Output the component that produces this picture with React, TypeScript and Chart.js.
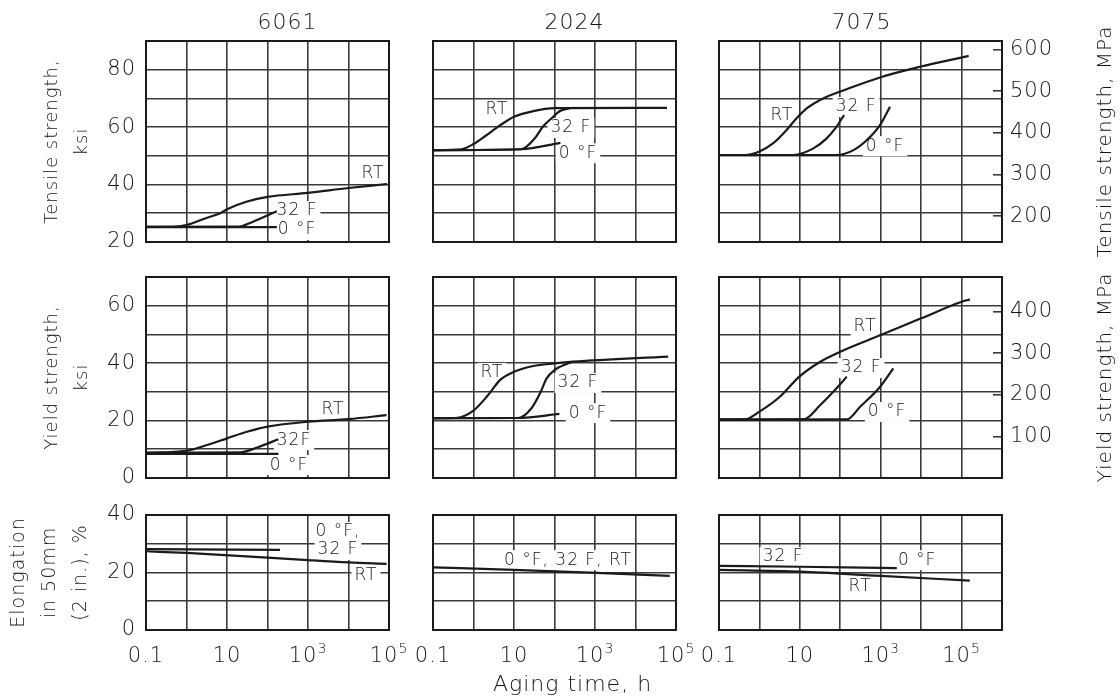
import React, { useEffect, useRef } from 'react';
import { Chart, registerables } from 'chart.js';

Chart.register(...registerables);

// ---------------- text ----------------
const alloys = ['6061', '2024', '7075'];
const rowTitles = [
  ['Tensile strength,', 'ksi'],
  ['Yield strength,', 'ksi'],
  ['Elongation', 'in 50mm', '(2 in.), %'],
];
const rightTitles = ['Tensile strength, MPa', 'Yield strength, MPa'];
const xAxisTitle = 'Aging time, h';

// ---------------- axes ----------------
const xGridDecades6 = [0.1, 1, 10, 100, 1000, 10000, 100000];
const xGridDecades7 = [0.1, 1, 10, 100, 1000, 10000, 100000, 1000000];
const xTickValues = [0.1, 10, 1000, 100000];
const xTickLabels = ['0.1', '10', '10³', '10⁵'];

const tensileRange = [20, 90];
const yieldRange = [0, 70];
const elongRange = [0, 40];
const tensileGrid = [20, 30, 40, 50, 60, 70, 80, 90];
const yieldGrid = [0, 10, 20, 30, 40, 50, 60, 70];
const elongGrid = [0, 10, 20, 30, 40];
const tensileTickLabels = [20, 40, 60, 80];
const yieldTickLabels = [0, 20, 40, 60];
const elongTickLabels = [0, 20, 40];
const mpaTicksTensile = [200, 300, 400, 500, 600];
const mpaTicksYield = [100, 200, 300, 400];
const KSI_TO_MPA = 6.89476;

// ---------------- series: tensile strength, ksi ----------------
const t6061RT_h = [0.1, 0.45, 1, 3, 6.8, 10, 30, 100, 1000, 10000, 90000];
const t6061RT_v = [25.3, 25.3, 25.9, 28.3, 30.0, 31.4, 34.0, 35.7, 37.1, 38.8, 40.2];
const t606132_h = [0.1, 20, 40, 170];
const t606132_v = [25.3, 25.4, 26.8, 30.7];
const t60610_h = [0.1, 170];
const t60610_v = [25.2, 25.2];

const t2024RT_h = [0.1, 0.5, 1, 2, 4.5, 10, 30, 100, 60000];
const t2024RT_v = [52.0, 52.3, 54.1, 57.0, 60.6, 63.6, 65.6, 66.6, 66.7];
const t202432_h = [0.1, 15, 33, 52, 85, 137, 240];
const t202432_v = [52.0, 52.3, 56.2, 60.2, 63.1, 65.6, 66.6];
const t20240_h = [0.1, 15, 140];
const t20240_v = [52.0, 52.3, 54.5];

const t7075RT_h = [0.1, 0.44, 1, 2.2, 4.7, 7.6, 15, 46, 100, 1000, 10000, 150000];
const t7075RT_v = [50.3, 50.3, 51.5, 54.4, 59.0, 62.5, 66.6, 70.6, 72.4, 77.4, 81.1, 84.8];
const t707532_h = [0.1, 6.9, 21.6, 46, 81, 124];
const t707532_v = [50.3, 50.3, 52.6, 56.1, 60.2, 64.2];
const t70750_h = [0.1, 81, 213, 455, 970, 1700];
const t70750_v = [50.3, 50.3, 52.0, 55.5, 60.8, 67.1];

// ---------------- series: yield strength, ksi ----------------
const y6061RT_h = [0.1, 1, 3.2, 10, 31, 100, 1000, 10000, 87000];
const y6061RT_v = [8.8, 9.5, 11.5, 13.8, 16.1, 17.9, 19.6, 20.5, 21.9];
const y606132_h = [0.1, 21, 60, 186];
const y606132_v = [8.8, 8.9, 10.8, 13.5];
const y60610_h = [0.1, 186];
const y60610_v = [8.4, 8.4];

const y2024RT_h = [0.1, 0.35, 1, 2.3, 4.5, 10, 30, 100, 290, 64000];
const y2024RT_v = [20.8, 20.9, 23.5, 28.9, 34.1, 37.0, 39.0, 39.9, 40.5, 42.3];
const y202432_h = [0.1, 12.8, 27, 44, 64, 100, 200, 290];
const y202432_v = [20.8, 20.9, 24.3, 29.5, 34.7, 37.6, 39.7, 40.5];
const y20240_h = [0.1, 12.8, 132];
const y20240_v = [20.8, 20.9, 22.3];

const y7075RT_h = [0.1, 0.44, 1, 3.2, 9.7, 32, 100, 1000, 10000, 93000, 160000];
const y7075RT_v = [20.3, 20.4, 23.1, 28.3, 35.3, 40.5, 44.0, 49.8, 55.6, 61.2, 62.2];
const y707532_h = [0.1, 12.3, 32, 68, 145];
const y707532_v = [20.3, 20.4, 25.4, 30.1, 35.3];
const y70750_h = [0.1, 145, 310, 970, 2050];
const y70750_v = [20.3, 20.4, 24.8, 31.8, 38.2];

// ---------------- series: elongation, % ----------------
const e6061Low_h = [0.1, 204];
const e6061Low_v = [28.1, 27.9];
const e6061RT_h = [0.1, 1, 100, 1000, 10000, 87000];
const e6061RT_v = [27.4, 26.8, 25.2, 24.3, 23.5, 23.0];

const e2024All_h = [0.1, 10, 1100, 70000];
const e2024All_v = [21.8, 20.9, 19.9, 18.8];

const e7075Low_h = [0.1, 10, 2500];
const e7075Low_v = [22.3, 22.0, 21.5];
const e7075RT_h = [0.1, 10, 1000, 160000];
const e7075RT_v = [20.9, 20.3, 18.8, 17.2];

// ---------------- curve labels (data coordinates) ----------------
const labels6061T = [
  { text: 'RT', h: 40300, v: 43.7 },
  { text: '32 F', h: 535, v: 30.8 },
  { text: '0 °F', h: 535, v: 24.2 },
];
const labels2024T = [
  { text: 'RT', h: 3.8, v: 66.0 },
  { text: '32 F', h: 255, v: 59.7 },
  { text: '0 °F', h: 380, v: 50.9 },
];
const labels7075T = [
  { text: 'RT', h: 3.6, v: 63.9 },
  { text: '32 F', h: 246, v: 67.0 },
  { text: '0 °F', h: 1285, v: 53.4 },
];
const labels6061Y = [
  { text: 'RT', h: 4140, v: 23.7 },
  { text: '32F', h: 451, v: 13.2 },
  { text: '0 °F', h: 340, v: 4.5 },
];
const labels2024Y = [
  { text: 'RT', h: 2.86, v: 36.6 },
  { text: '32 F', h: 380, v: 33.1 },
  { text: '0 °F', h: 671, v: 22.6 },
];
const labels7075Y = [
  { text: 'RT', h: 411, v: 52.9 },
  { text: '32 F', h: 327, v: 38.3 },
  { text: '0 °F', h: 1440, v: 23.0 },
];
const labels6061E = [
  { text: '0 °F,', h: 5500, v: 34.1 },
  { text: '32 F', h: 5500, v: 27.8 },
  { text: 'RT', h: 27000, v: 18.8 },
];
const labels2024E = [{ text: '0 °F, 32 F, RT', h: 215, v: 24.3 }];
const labels7075E = [
  { text: '32 F', h: 3.84, v: 25.4 },
  { text: '0 °F', h: 7960, v: 24.3 },
  { text: 'RT', h: 309, v: 15.0 },
];

// ---------------- layout & style ----------------
const W = 1120;
const H = 700;
const COL_LEFT = [146, 433, 719];
const COL_RIGHT = [389, 676, 1002];
const ROW_TOP = [41, 277, 515];
const ROW_BOTTOM = [242, 478, 630];
const TITLE_SHIFT = [20, 20, 1];
const FONT = '"DejaVu Sans", "Liberation Sans", sans-serif';
const WEIGHT = '300';
const SPACING = '1px';
const INK = '#151515';
const GRID = '#3a3a3a';
const LINE = '#1a1a1a';
const SUPERSCRIPTS: Record<string, string> = { '³': '3', '⁵': '5' };

type Series = { h: number[]; v: number[] };
type Label = { text: string; h: number; v: number };
type PanelDef = { col: number; row: number; series: Series[]; labels: Label[] };

const panels: PanelDef[] = [
  { col: 0, row: 0, labels: labels6061T, series: [{ h: t6061RT_h, v: t6061RT_v }, { h: t606132_h, v: t606132_v }, { h: t60610_h, v: t60610_v }] },
  { col: 1, row: 0, labels: labels2024T, series: [{ h: t2024RT_h, v: t2024RT_v }, { h: t202432_h, v: t202432_v }, { h: t20240_h, v: t20240_v }] },
  { col: 2, row: 0, labels: labels7075T, series: [{ h: t7075RT_h, v: t7075RT_v }, { h: t707532_h, v: t707532_v }, { h: t70750_h, v: t70750_v }] },
  { col: 0, row: 1, labels: labels6061Y, series: [{ h: y6061RT_h, v: y6061RT_v }, { h: y606132_h, v: y606132_v }, { h: y60610_h, v: y60610_v }] },
  { col: 1, row: 1, labels: labels2024Y, series: [{ h: y2024RT_h, v: y2024RT_v }, { h: y202432_h, v: y202432_v }, { h: y20240_h, v: y20240_v }] },
  { col: 2, row: 1, labels: labels7075Y, series: [{ h: y7075RT_h, v: y7075RT_v }, { h: y707532_h, v: y707532_v }, { h: y70750_h, v: y70750_v }] },
  { col: 0, row: 2, labels: labels6061E, series: [{ h: e6061RT_h, v: e6061RT_v }, { h: e6061Low_h, v: e6061Low_v }] },
  { col: 1, row: 2, labels: labels2024E, series: [{ h: e2024All_h, v: e2024All_v }] },
  { col: 2, row: 2, labels: labels7075E, series: [{ h: e7075RT_h, v: e7075RT_v }, { h: e7075Low_h, v: e7075Low_v }] },
];

const yRanges = [tensileRange, yieldRange, elongRange];
const yGrids = [tensileGrid, yieldGrid, elongGrid];
const yTickLabelSets = [tensileTickLabels, yieldTickLabels, elongTickLabels];
const mpaTickSets = [mpaTicksTensile, mpaTicksYield];

// draws a tick label such as "10³" with a real raised exponent, centred on x
function drawPowerLabel(ctx: CanvasRenderingContext2D, text: string, x: number, y: number) {
  let base = '';
  let exp = '';
  for (const ch of text) {
    if (SUPERSCRIPTS[ch]) exp += SUPERSCRIPTS[ch];
    else base += ch;
  }
  const baseFont = `${WEIGHT} 21px ${FONT}`;
  const expFont = `${WEIGHT} 14px ${FONT}`;
  ctx.font = baseFont;
  const bw = ctx.measureText(base).width;
  ctx.font = expFont;
  const ew = exp ? ctx.measureText(exp).width : 0;
  const start = x - (bw + ew) / 2;
  ctx.textAlign = 'left';
  ctx.textBaseline = 'middle';
  ctx.font = baseFont;
  ctx.fillText(base, start, y);
  if (exp) {
    ctx.font = expFont;
    ctx.fillText(exp, start + bw, y - 8);
  }
}

function decorPlugin(p: PanelDef) {
  return {
    id: 'decor',
    beforeDraw(chart: any) {
      chart.ctx.letterSpacing = SPACING;
    },
    beforeDatasetsDraw(chart: any) {
      const { ctx, scales } = chart;
      ctx.save();
      ctx.font = `${WEIGHT} 17px ${FONT}`;
      ctx.fillStyle = '#ffffff';
      p.labels.forEach((l) => {
        const x = scales.x.getPixelForValue(l.h);
        const y = scales.y.getPixelForValue(l.v);
        const w = ctx.measureText(l.text).width;
        ctx.fillRect(x - w / 2 - 3, y - 10, w + 6, 20);
      });
      ctx.restore();
    },
    afterDatasetsDraw(chart: any) {
      const { ctx, scales } = chart;
      ctx.save();
      ctx.font = `${WEIGHT} 17px ${FONT}`;
      ctx.fillStyle = INK;
      ctx.textAlign = 'center';
      ctx.textBaseline = 'middle';
      p.labels.forEach((l) => {
        ctx.fillText(l.text, scales.x.getPixelForValue(l.h), scales.y.getPixelForValue(l.v));
      });
      ctx.restore();
    },
    afterDraw(chart: any) {
      const { ctx, chartArea: a, scales } = chart;
      ctx.save();
      ctx.strokeStyle = LINE;
      ctx.lineWidth = 2;
      ctx.strokeRect(a.left, a.top, a.right - a.left, a.bottom - a.top);
      ctx.fillStyle = INK;
      if (p.row === 2) {
        xTickValues.forEach((v, i) => {
          drawPowerLabel(ctx, xTickLabels[i], scales.x.getPixelForValue(v), a.bottom + 27);
        });
      }
      ctx.textAlign = 'center';
      ctx.textBaseline = 'middle';
      if (p.row === 0) {
        ctx.font = `${WEIGHT} 22px ${FONT}`;
        ctx.fillText(alloys[p.col], (a.left + a.right) / 2 + TITLE_SHIFT[p.col], a.top - 18);
      }
      if (p.row === 2 && p.col === 1) {
        ctx.font = `${WEIGHT} 22px ${FONT}`;
        ctx.fillText(xAxisTitle, (a.left + a.right) / 2 + 18, a.bottom + 55);
      }
      if (p.col === 2 && p.row < 2) {
        ctx.font = `${WEIGHT} 20px ${FONT}`;
        ctx.translate(a.right + 104, (a.top + a.bottom) / 2);
        ctx.rotate(-Math.PI / 2);
        ctx.fillText(rightTitles[p.row], 0, 0);
      }
      ctx.restore();
    },
  };
}

function buildConfig(p: PanelDef): any {
  const { col, row } = p;
  const [yMin, yMax] = yRanges[row];
  const hasRight = col === 2 && row < 2;
  const xGrid = col === 2 ? xGridDecades7 : xGridDecades6;
  const rowTitle = rowTitles[row];
  const titleLine = row === 2 ? 31 : 30;
  const titlePad = row === 2 ? 3.5 : 37;
  const tickFont = { family: FONT, size: 21, weight: WEIGHT };

  const scales: any = {
    x: {
      type: 'logarithmic',
      min: 0.1,
      max: xGrid[xGrid.length - 1],
      afterBuildTicks: (sc: any) => {
        sc.ticks = xGrid.map((v) => ({ value: v }));
      },
      ticks: { display: false },
      grid: { color: GRID, lineWidth: 1.6, drawTicks: false },
      border: { display: false },
      afterFit: (sc: any) => {
        sc.height = H - ROW_BOTTOM[row];
      },
    },
    y: {
      type: 'linear',
      min: yMin,
      max: yMax,
      afterBuildTicks: (sc: any) => {
        sc.ticks = yGrids[row].map((v) => ({ value: v }));
      },
      ticks: {
        display: col === 0,
        padding: 10,
        color: INK,
        font: tickFont,
        callback: (value: any) => (yTickLabelSets[row].includes(Number(value)) ? String(value) : ''),
      },
      grid: { color: GRID, lineWidth: 1.6, drawTicks: false },
      border: { display: false },
      title: {
        display: col === 0,
        text: rowTitle,
        color: INK,
        font: { family: FONT, weight: WEIGHT, size: row === 2 ? 19 : 18, lineHeight: `${titleLine}px` },
        padding: { top: titlePad, bottom: 0 },
      },
      afterFit: (sc: any) => {
        sc.width = COL_LEFT[col];
      },
    },
  };

  if (hasRight) {
    scales.y2 = {
      type: 'linear',
      position: 'right',
      min: yMin * KSI_TO_MPA,
      max: yMax * KSI_TO_MPA,
      afterBuildTicks: (sc: any) => {
        sc.ticks = mpaTickSets[row].map((v) => ({ value: v }));
      },
      ticks: {
        padding: 17,
        color: INK,
        font: tickFont,
        callback: (value: any) => String(value),
      },
      grid: { drawOnChartArea: false, drawTicks: true, tickLength: -9, color: GRID, lineWidth: 1.6 },
      border: { display: false },
      afterFit: (sc: any) => {
        sc.width = W - COL_RIGHT[col];
      },
    };
  }

  return {
    type: 'line',
    data: {
      datasets: p.series.map((s) => ({
        data: s.h.map((h, i) => ({ x: h, y: s.v[i] })),
        borderColor: LINE,
        borderWidth: 2.2,
        pointRadius: 0,
        fill: false,
        cubicInterpolationMode: 'monotone',
      })),
    },
    options: {
      responsive: false,
      animation: false,
      events: [],
      layout: {
        padding: { left: 0, top: ROW_TOP[row], bottom: 0, right: hasRight ? 0 : W - COL_RIGHT[col] },
      },
      plugins: { legend: { display: false }, tooltip: { enabled: false }, title: { display: false } },
      scales,
    },
    plugins: [decorPlugin(p)],
  };
}

function Panel({ def }: { def: PanelDef }) {
  const ref = useRef<HTMLCanvasElement>(null);
  useEffect(() => {
    const chart = new Chart(ref.current as HTMLCanvasElement, buildConfig(def));
    return () => chart.destroy();
  }, [def]);
  return <canvas ref={ref} width={W} height={H} style={{ position: 'absolute', left: 0, top: 0 }} />;
}

export default function App() {
  return (
    <div style={{ position: 'fixed', left: 0, top: 0, width: W, height: H, background: '#ffffff', overflow: 'hidden' }}>
      {panels.map((p, i) => (
        <Panel key={i} def={p} />
      ))}
    </div>
  );
}
